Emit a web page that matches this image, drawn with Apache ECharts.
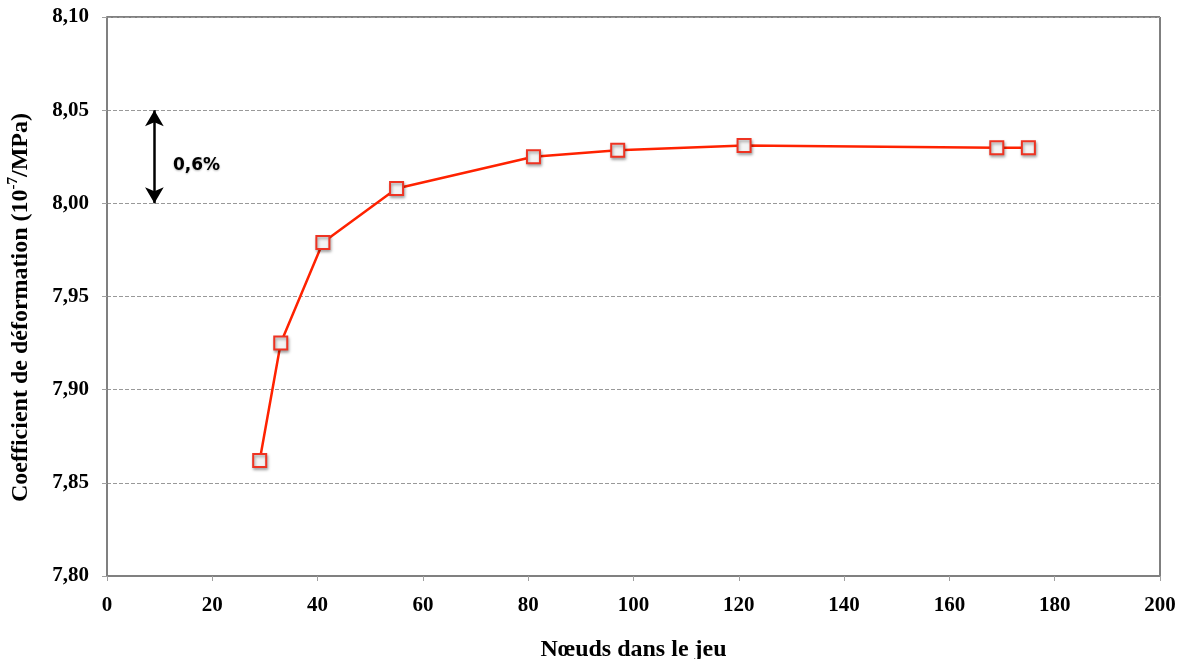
<!DOCTYPE html>
<html><head><meta charset="utf-8">
<script src="https://cdn.jsdelivr.net/npm/echarts@6/dist/echarts.min.js"></script>
<style>html,body{margin:0;padding:0;background:#fff}#c{width:1187px;height:659px}</style>
</head><body><div id="c"></div>
<script>
const nodes = [29, 33, 41, 55, 81, 97, 121, 169, 175];
const coef = [7.862, 7.925, 7.979, 8.008, 8.025, 8.0285, 8.031, 8.0298, 8.0298];
const arrowX = 9;
const arrowFrom = 8.05;
const arrowTo = 8.00;
const noteLabel = '0,6%';
const notePos = [17, 8.0205];
const xTitle = 'Nœuds dans le jeu';
const yTitleMain = 'Coefficient de déformation (10';
const yTitleSup = '-7';
const yTitleEnd = '/MPa)';

const serif = '"Liberation Serif", "DejaVu Serif", serif';
const chart = echarts.init(document.getElementById('c'));
chart.setOption({
  animation: false,
  backgroundColor: '#fff',
  grid: { left: 107, right: 27, top: 17, bottom: 83, show: true, borderColor: '#000', borderWidth: 1,
    containLabel: false, outerBoundsMode: 'none' },
  xAxis: {
    type: 'value', min: 0, max: 200, interval: 20,
    name: xTitle, nameLocation: 'middle', nameGap: 62,
    nameTextStyle: { fontFamily: serif, fontWeight: 'bold', fontSize: 24, color: '#000' },
    axisLine: { show: true, lineStyle: { color: '#808080', width: 2 } },
    axisTick: { show: true, length: 5, lineStyle: { color: '#a0a0a0', width: 1 } },
    axisLabel: { fontFamily: serif, fontWeight: 'bold', fontSize: 21, color: '#000', margin: 19 },
    splitLine: { show: false }
  },
  yAxis: {
    type: 'value', min: 7.80, max: 8.10, interval: 0.05,
    name: '{m|' + yTitleMain + '}{s|' + yTitleSup + '}{m|' + yTitleEnd + '}',
    nameLocation: 'middle', nameGap: 74,
    nameTextStyle: {
      padding: [0, 22, 0, 0],
      rich: {
        m: { fontFamily: serif, fontWeight: 'bold', fontSize: 24, color: '#000', verticalAlign: 'bottom', lineHeight: 27 },
        s: { fontFamily: serif, fontWeight: 'bold', fontSize: 15, color: '#000', verticalAlign: 'top', lineHeight: 27 }
      }
    },
    axisLine: { show: true, lineStyle: { color: '#808080', width: 2 } },
    axisTick: { show: true, length: 5, lineStyle: { color: '#a0a0a0', width: 1 } },
    axisLabel: { fontFamily: serif, fontWeight: 'bold', fontSize: 21, color: '#000', margin: 18,
      formatter: v => v.toFixed(2).replace('.', ',') },
    splitLine: { show: true, lineStyle: { color: '#999', type: [4, 2], width: 1 } }
  },
  series: [{
    type: 'line',
    data: nodes.map((x, i) => [x, coef[i]]),
    symbol: 'rect', symbolSize: 13, showAllSymbol: true,
    lineStyle: { color: '#ff2200', width: 2.5 },
    itemStyle: { color: '#f4f4f4', borderColor: '#ee3322', borderWidth: 2,
      shadowColor: 'rgba(0,0,0,0.35)', shadowBlur: 3, shadowOffsetX: 1, shadowOffsetY: 2 },
    z: 5,
    markLine: {
      silent: true,
      symbol: ['arrow', 'arrow'], symbolSize: [14, 16],
      label: { show: false },
      lineStyle: { color: '#000', width: 2.5, type: 'solid' },
      data: [[{ coord: [arrowX, arrowFrom] }, { coord: [arrowX, arrowTo] }]]
    },
    markPoint: {
      silent: true,
      symbol: 'circle', symbolSize: 0,
      label: { show: true, formatter: noteLabel, fontFamily: '"DejaVu Sans", sans-serif', fontWeight: 'bold', fontSize: 17, color: '#000', position: 'inside',
        textShadowColor: 'rgba(0,0,0,0.3)', textShadowBlur: 2, textShadowOffsetY: 1 },
      data: [{ coord: notePos }]
    }
  }]
});
</script>
</body></html>
